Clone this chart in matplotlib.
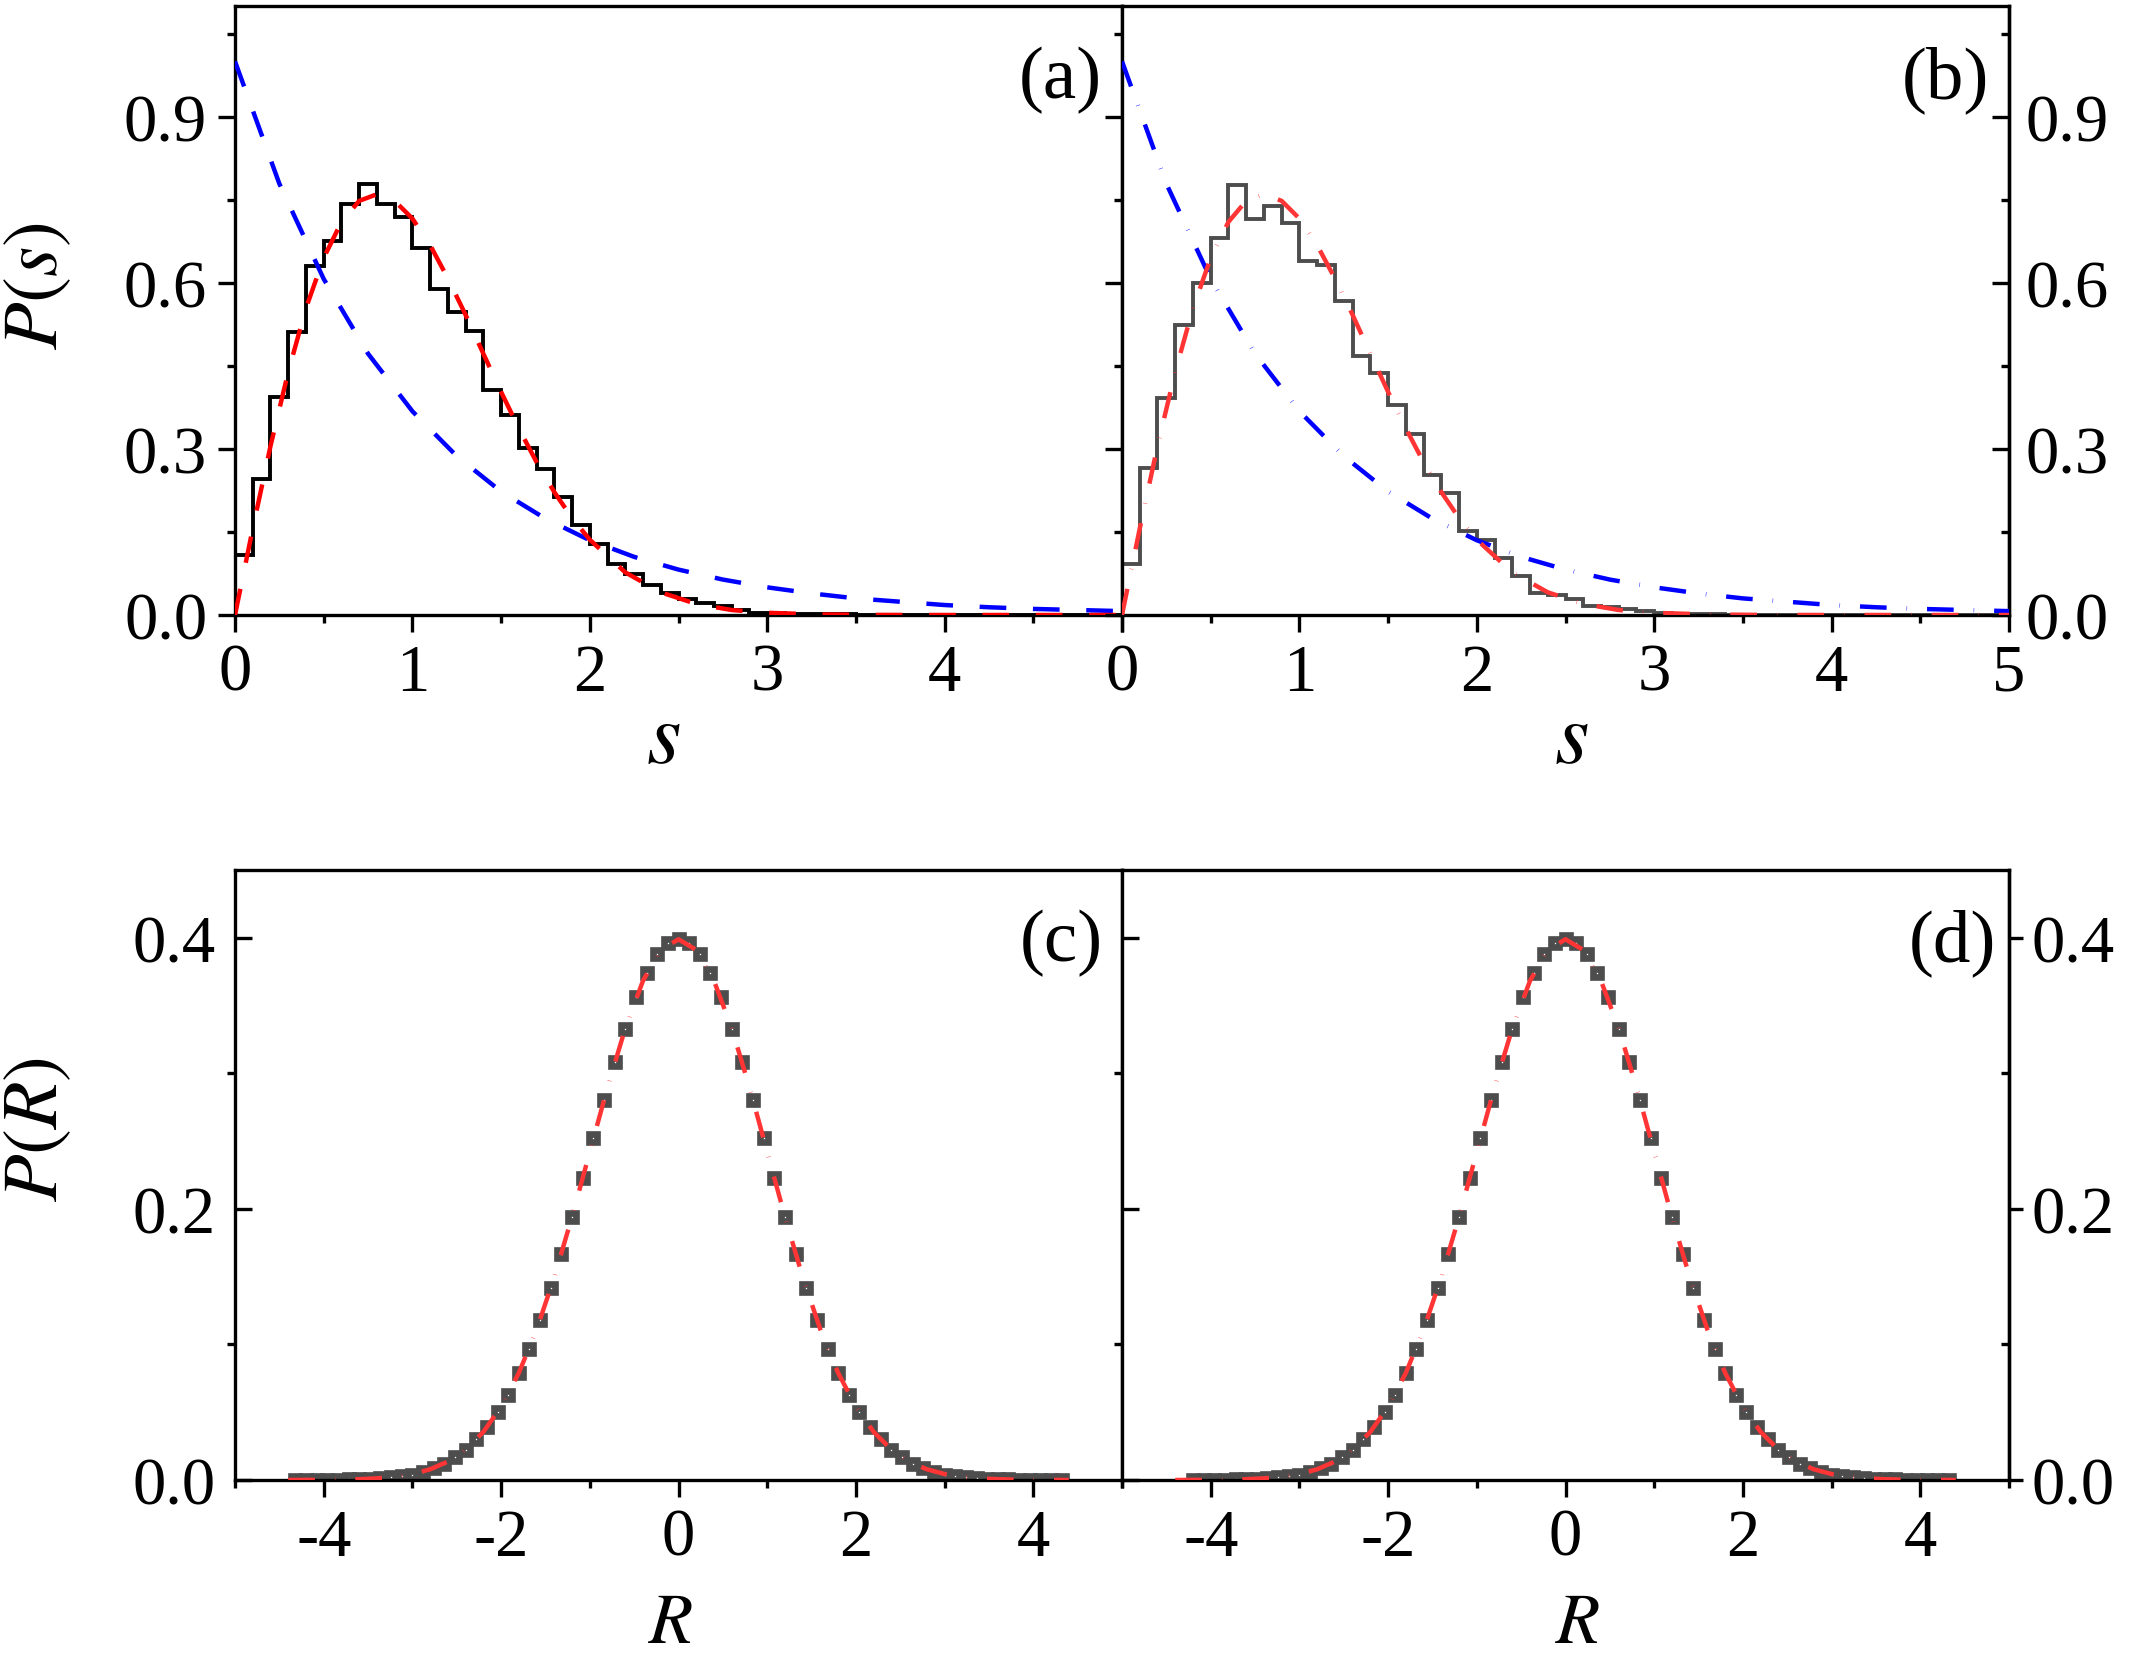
import numpy as np
import matplotlib
matplotlib.use('Agg')
import matplotlib.pyplot as plt
from matplotlib.ticker import MultipleLocator, FormatStrFormatter

plt.rcParams['font.family'] = 'Liberation Serif'
plt.rcParams['mathtext.fontset'] = 'stix'
plt.rcParams['axes.unicode_minus'] = False

# ---- data ----
# nearest-neighbour spacing histograms, bin width 0.1 on [0, 5]
bin_edges = np.round(np.arange(0, 5.01, 0.1), 2)
hist_a = [0.108, 0.245, 0.394, 0.511, 0.631, 0.675, 0.742, 0.778, 0.742, 0.718,
          0.663, 0.589, 0.547, 0.513, 0.406, 0.362, 0.301, 0.263, 0.213, 0.162,
          0.128, 0.093, 0.074, 0.055, 0.039, 0.029, 0.022, 0.017, 0.009, 0.004,
          0.003, 0.002, 0.001, 0.001, 0.001, 0.0, 0.0, 0.0, 0.0, 0.0,
          0.0, 0.0, 0.0, 0.0, 0.0, 0.0, 0.0, 0.0, 0.0, 0.0]
hist_b = [0.093, 0.265, 0.392, 0.523, 0.600, 0.681, 0.776, 0.716, 0.739, 0.708,
          0.639, 0.633, 0.567, 0.467, 0.438, 0.380, 0.327, 0.252, 0.221, 0.151,
          0.135, 0.103, 0.070, 0.039, 0.037, 0.029, 0.017, 0.015, 0.010, 0.007,
          0.003, 0.002, 0.001, 0.001, 0.0, 0.0, 0.0, 0.0, 0.0, 0.0,
          0.0, 0.0, 0.0, 0.0, 0.0, 0.0, 0.0, 0.0, 0.0, 0.0]

# Poisson curve (blue dashed)
s_poisson = [0, 0.25, 0.5, 0.75, 1.0, 1.25, 1.5, 1.75, 2.0, 2.25, 2.5,
             2.75, 3.0, 3.25, 3.5, 3.75, 4.0, 4.25, 4.5, 4.75, 5.0]
p_poisson = [1.000, 0.779, 0.607, 0.472, 0.368, 0.287, 0.223, 0.174, 0.135, 0.105, 0.082,
             0.064, 0.050, 0.039, 0.030, 0.024, 0.018, 0.014, 0.011, 0.009, 0.007]

# Wigner curve (red dashed)
s_wigner = [0, 0.1, 0.2, 0.3, 0.4, 0.5, 0.6, 0.7, 0.8, 0.9, 1.0, 1.1, 1.2, 1.3, 1.4,
            1.5, 1.6, 1.7, 1.8, 1.9, 2.0, 2.2, 2.4, 2.6, 2.8, 3.0, 3.3, 3.6, 4.0, 5.0]
p_wigner = [0.0, 0.156, 0.305, 0.439, 0.554, 0.645, 0.710, 0.748, 0.760, 0.748,
            0.716, 0.668, 0.608, 0.542, 0.472, 0.403, 0.337, 0.276, 0.222, 0.175,
            0.136, 0.077, 0.041, 0.020, 0.009, 0.004, 0.001, 0.0002, 0.0, 0.0]

# distribution of R, points every 0.12
r_c = np.round(np.arange(-36, 37) * 0.12, 2)
half = [0.399, 0.396, 0.388, 0.374, 0.356, 0.333, 0.308, 0.280, 0.252, 0.223,
        0.194, 0.167, 0.142, 0.118, 0.097, 0.079, 0.063, 0.050, 0.039, 0.030,
        0.022, 0.017, 0.012, 0.009, 0.006, 0.004, 0.003, 0.002, 0.0014, 0.0009,
        0.0006, 0.0004, 0.0003, 0.0002, 0.0001, 0.0001, 0.0]
pr_c = half[::-1] + half[1:]
r_d = np.round(np.arange(-35, 37) * 0.12, 2)
pr_d = half[35::-1] + half[1:]

# Gaussian fit (red dashed)
r_fit = np.round(np.arange(-22, 23) * 0.2, 2)
fit_half = [0.3989, 0.3910, 0.3683, 0.3332, 0.2897, 0.2420, 0.1942, 0.1497, 0.1109,
            0.0790, 0.0540, 0.0355, 0.0224, 0.0136, 0.0079, 0.0044, 0.0024, 0.0012,
            0.0006, 0.0003, 0.0001, 0.0001, 0.0]
p_fit = fit_half[::-1] + fit_half[1:]

# ---- layout ----
W, H = 2133, 1658
fig = plt.figure(figsize=(W / 200, H / 200), dpi=200)
xl, xm, xr = 235 / W, 1122 / W, 2009 / W
top_rect = (1 - 616 / H, (616 - 7) / H)
bot_rect = (1 - 1481 / H, (1481 - 871) / H)

ax_a = fig.add_axes([xl, top_rect[0], xm - xl, top_rect[1]])
ax_b = fig.add_axes([xm, top_rect[0], xr - xm, top_rect[1]])
ax_c = fig.add_axes([xl, bot_rect[0], xm - xl, bot_rect[1]])
ax_d = fig.add_axes([xm, bot_rect[0], xr - xm, bot_rect[1]])

LW = 1.2
TS = 24
red = '#ff3535'
gray = '#4d4d4d'
dash_b = (6, 4.5, 0.1, 4.5)

for ax in [ax_a, ax_b, ax_c, ax_d]:
    for sp in ax.spines.values():
        sp.set_linewidth(LW)
    ax.tick_params(which='both', width=LW, labelsize=TS, top=False, right=False)
    ax.tick_params(axis='x', which='major', length=6, direction='out', pad=4)
    ax.tick_params(axis='x', which='minor', length=3, direction='out')

# top row
for ax in [ax_a, ax_b]:
    ax.set_xlim(0, 5)
    ax.set_ylim(0, 1.1)
    ax.xaxis.set_minor_locator(MultipleLocator(0.5))
    ax.set_yticks([0, 0.3, 0.6, 0.9])
    ax.yaxis.set_minor_locator(MultipleLocator(0.15))
    ax.yaxis.set_major_formatter(FormatStrFormatter('%.1f'))
    ax.tick_params(axis='y', which='major', length=6, direction='out', pad=4)
    ax.tick_params(axis='y', which='minor', length=3, direction='out')

ax_a.set_xticks([0, 1, 2, 3, 4, 5], ['0', '1', '2', '3', '4', ''])
ax_b.set_xticks([0, 1, 2, 3, 4, 5], ['0', '1', '2', '3', '4', '5'])
ax_b.tick_params(axis='y', labelleft=False)

ax_a.stairs(hist_a, bin_edges, baseline=0, color='black', lw=1.4, zorder=2)
ax_a.plot(s_poisson, p_poisson, color='#0000ff', lw=1.6, dashes=(6, 6), zorder=3)
ax_a.plot(s_wigner, p_wigner, color='#ff0000', lw=1.6, dashes=(6, 6), zorder=4)

ax_b.stairs(hist_b, bin_edges, baseline=0, color=gray, lw=1.4, zorder=2)
ax_b.plot(s_poisson, p_poisson, color='#0000ff', lw=1.6, dashes=dash_b, zorder=3)
ax_b.plot(s_wigner, p_wigner, color=red, lw=1.6, dashes=dash_b, zorder=4)

sec_b = ax_b.secondary_yaxis('right')
sec_b.set_yticks([0, 0.3, 0.6, 0.9])
sec_b.yaxis.set_minor_locator(MultipleLocator(0.15))
sec_b.yaxis.set_major_formatter(FormatStrFormatter('%.1f'))
sec_b.spines['right'].set_linewidth(LW)
sec_b.tick_params(which='both', width=LW, labelsize=TS, direction='in')
sec_b.tick_params(which='major', length=6, pad=6)
sec_b.tick_params(which='minor', length=3)

# bottom row
for ax in [ax_c, ax_d]:
    ax.set_xlim(-5, 5)
    ax.set_ylim(0, 0.45)
    ax.set_xticks([-4, -2, 0, 2, 4])
    ax.xaxis.set_minor_locator(MultipleLocator(1))
    ax.set_yticks([0, 0.2, 0.4])
    ax.yaxis.set_minor_locator(MultipleLocator(0.1))
    ax.yaxis.set_major_formatter(FormatStrFormatter('%.1f'))
    ax.tick_params(axis='y', which='major', length=6, direction='in', pad=7)
    ax.tick_params(axis='y', which='minor', length=3, direction='out')
ax_d.tick_params(axis='y', labelleft=False)

ax_c.plot(r_c, pr_c, ls='none', marker='s', ms=3.0, mfc='white', mec=gray, mew=2.4, zorder=2)
ax_c.plot(r_fit, p_fit, color=red, lw=1.6, dashes=dash_b, zorder=3)
ax_d.plot(r_d, pr_d, ls='none', marker='s', ms=3.0, mfc='white', mec=gray, mew=2.4, zorder=2)
ax_d.plot(r_fit, p_fit, color=red, lw=1.6, dashes=dash_b, zorder=3)

sec_d = ax_d.secondary_yaxis('right')
sec_d.set_yticks([0, 0.2, 0.4])
sec_d.yaxis.set_minor_locator(MultipleLocator(0.1))
sec_d.yaxis.set_major_formatter(FormatStrFormatter('%.1f'))
sec_d.spines['right'].set_linewidth(LW)
sec_d.tick_params(which='both', width=LW, labelsize=TS)
sec_d.tick_params(which='major', length=5, direction='out', pad=3)
sec_d.tick_params(which='minor', length=3, direction='in')

# panel tags
tag_pos = [(ax_a, '(a)', 0.931, 0.879), (ax_b, '(b)', 0.928, 0.879),
           (ax_c, '(c)', 0.932, 0.882), (ax_d, '(d)', 0.936, 0.882)]
for ax, tag, tx, ty in tag_pos:
    ax.text(tx, ty, tag, transform=ax.transAxes, ha='center', va='center', fontsize=27)

# axis titles
fig.text(38 / W, 1 - 286 / H, '$P(s)$', rotation=90, ha='center', va='center', fontsize=28)
fig.text(38 / W, 1 - 1129 / H, '$P(R)$', rotation=90, ha='center', va='center', fontsize=28)
fig.text(663 / W, 1 - 742 / H, '$s$', ha='center', va='center', fontsize=32)
fig.text(1571 / W, 1 - 742 / H, '$s$', ha='center', va='center', fontsize=32)
fig.text(671 / W, 1 - 1626 / H, '$R$', ha='center', va='center', fontsize=26)
fig.text(1578 / W, 1 - 1626 / H, '$R$', ha='center', va='center', fontsize=26)

fig.savefig('out.png', dpi=200)
